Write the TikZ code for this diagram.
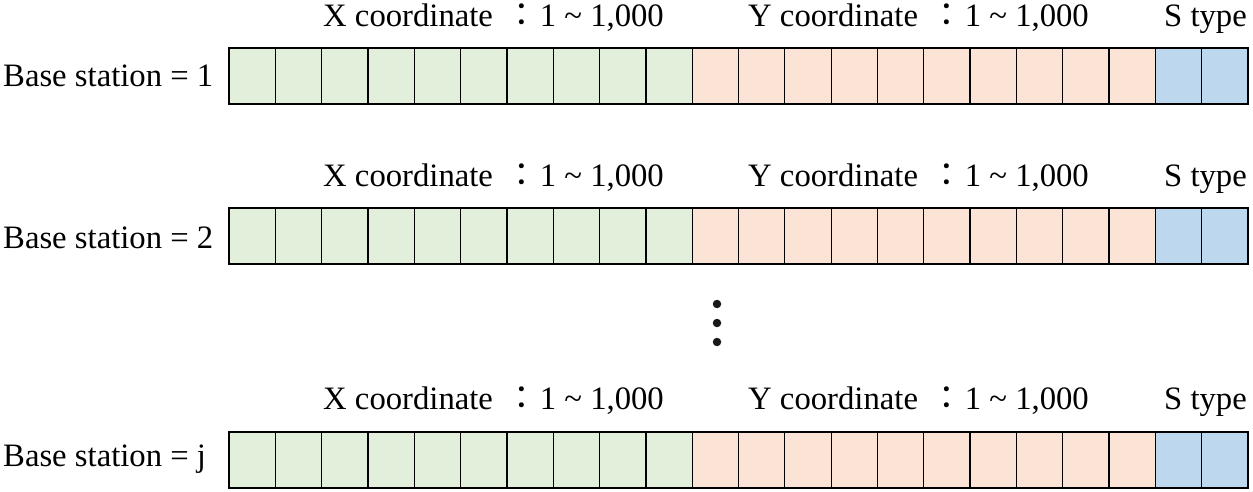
\documentclass[tikz,border=0pt]{standalone}
\usepackage{fontspec}
\setmainfont{Liberation Serif}
\newfontfamily\cjkfont{Noto Sans CJK TC}
\definecolor{cgreen}{HTML}{E2EFDA}
\definecolor{corange}{HTML}{FBE4D5}
\definecolor{cblue}{HTML}{BDD7EE}
\tikzset{
  cell/.style={draw=black, line width=1.3pt, minimum width=46.32pt, minimum height=56pt, inner sep=0pt, outer sep=0pt, anchor=north west},
  lbl/.style={inner sep=0pt, font=\fontsize{32.7}{39}\selectfont},
  dotmark/.style={circle, fill=black!90, minimum size=8.5pt, inner sep=0pt}
}
\newcommand{\coordtext}[1]{#1 coordinate\hspace{4pt} {\cjkfont\smash{：}}\hspace{2pt}1 \textasciitilde\ 1,000}
\begin{document}
\begin{tikzpicture}[x=1pt,y=-1pt]
\useasboundingbox (0,0) rectangle (1253,492);
\foreach \r/\top/\hy/\ly/\name in {1/48/27/87/1, 2/208/186/248/2, 3/432/409/466/j}{
  \foreach \i in {0,...,21}{
    \pgfmathsetmacro{\cx}{229+46.32*\i}
    \ifnum\i<10 \def\fc{cgreen}\else\ifnum\i<20 \def\fc{corange}\else\def\fc{cblue}\fi\fi
    \node[cell, fill=\fc] (c\r-\i) at (\cx,\top) {};
  }
  \node[lbl, anchor=base west] (b\r) at (3,\ly) {Base station = \name};
  \node[lbl, anchor=base west] (x\r) at (323,\hy) {\coordtext{X}};
  \node[lbl, anchor=base west] (y\r) at (748,\hy) {\coordtext{Y}};
  \node[lbl, anchor=base east] (s\r) at (1247,\hy) {S type};
}
\node[dotmark] (d1) at (717,304) {};
\node[dotmark] (d2) at (717,323) {};
\node[dotmark] (d3) at (717,342) {};
\end{tikzpicture}
\end{document}
